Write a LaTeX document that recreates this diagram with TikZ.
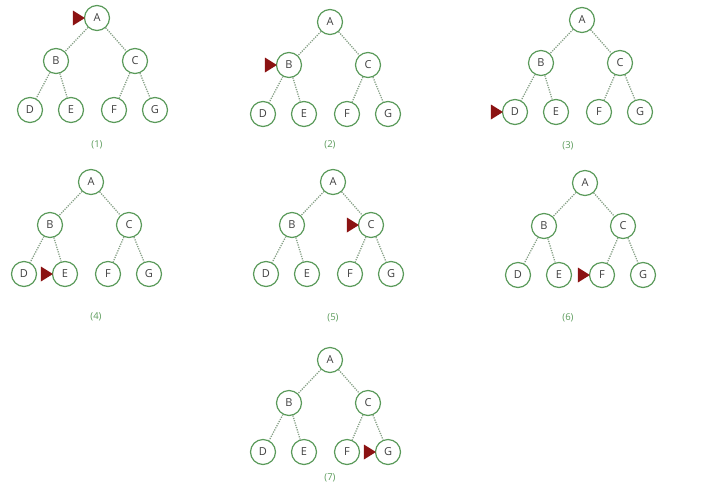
\documentclass[tikz,border=0pt]{standalone}
\usepackage{fontspec}
\setsansfont{Open Sans}
\usetikzlibrary{positioning, arrows.meta, calc}
\definecolor{treeGreen} {HTML}{5A9A5A}
\definecolor{edgeGrey}  {HTML}{86A086}
\definecolor{markRed}   {HTML}{8B1212}
\definecolor{letterGrey}{HTML}{404040}
\tikzset{
  tnode/.style={circle, draw=treeGreen, line width=1.2pt, minimum size=25pt,
    inner sep=0pt, fill=white, text=letterGrey, font=\sffamily\fontsize{11}{13}\selectfont},
  tedge/.style={draw=edgeGrey, dash pattern=on 1.2pt off 1.2pt, line width=1.3pt},
  pointer/.style={fill=markRed, draw=none},
  caption/.style={font=\sffamily\fontsize{9.5}{11}\selectfont, text=treeGreen},
}

\begin{document}
\begin{tikzpicture}[x=1pt, y=-1pt]
  \useasboundingbox (0,0) rectangle (722,488);
  % one tree per step, the pointer marks the visited node
  \foreach \n/\x/\y/\m/\cx/\cy in {1/97/18/A/0/127, 2/330/22/B/0/123, 3/582/20/D/-14/126,
                                   4/91/182/E/5/135, 5/333/182/C/0/136, 6/585/183/F/-17/135,
                                   7/330/360/G/0/118}{
    \begin{scope}[shift={(\x,\y)}]
      \node[tnode] (A\n) at (0, 0) {A};
      \node[tnode] (B\n) at (-41, 43) {B};
      \node[tnode] (C\n) at (38, 43) {C};
      \node[tnode] (D\n) at (-67, 92) {D};
      \node[tnode] (E\n) at (-26, 92) {E};
      \node[tnode] (F\n) at (17, 92) {F};
      \node[tnode] (G\n) at (58, 92) {G};
      \draw[tedge] (A\n) -- (B\n);
      \draw[tedge] (A\n) -- (C\n);
      \draw[tedge] (B\n) -- (D\n);
      \draw[tedge] (B\n) -- (E\n);
      \draw[tedge] (C\n) -- (F\n);
      \draw[tedge] (C\n) -- (G\n);
      \fill[pointer] ($(\m\n.west)+(1,0)$) -- ++(-12,-7.5) -- ++(0,15) -- cycle;
      \node[caption] (L\n) at (\cx, \cy) {(\n)};
    \end{scope}
  }
\end{tikzpicture}
\end{document}
